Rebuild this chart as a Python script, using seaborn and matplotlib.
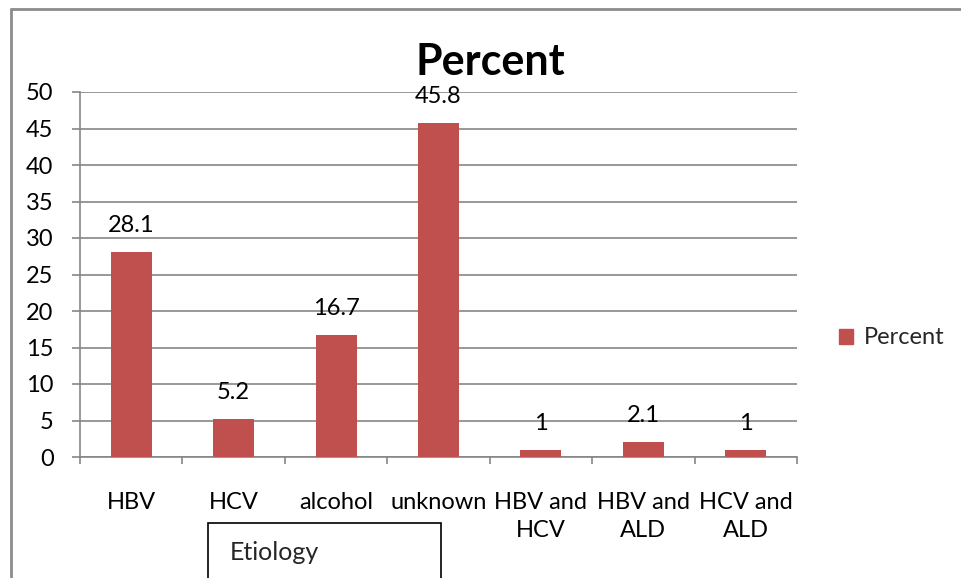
import seaborn as sns
import pandas as pd
import matplotlib.pyplot as plt
from matplotlib.patches import Rectangle
from matplotlib.lines import Line2D

categories = ["HBV", "HCV", "alcohol", "unknown", "HBV and\nHCV", "HBV and\nALD", "HCV and\nALD"]
percent = [28.1, 5.2, 16.7, 45.8, 1, 2.1, 1]
value_labels = ["28.1", "5.2", "16.7", "45.8", "1", "2.1", "1"]

sns.set_theme(style="white")
plt.rcParams['font.family'] = ['Lato', 'DejaVu Sans']

W, H = 961, 578
fig = plt.figure(figsize=(W / 100, H / 100), dpi=100)

# plot area in pixel coords
x0, x1, ytop, ybot = 80, 797, 92, 457
ax = fig.add_axes([x0 / W, 1 - ybot / H, (x1 - x0) / W, (ybot - ytop) / H])

df = pd.DataFrame({"Etiology": categories, "Percent": percent})
bar_color = "#C0504D"
sns.barplot(ax=ax, data=df, x="Etiology", y="Percent", color=bar_color,
            saturation=1, width=0.4, linewidth=0, zorder=3)

ax.set_xlim(-0.5, len(categories) - 0.5)
ax.set_ylim(0, 50)
ax.set_yticks(range(0, 51, 5))
ax.set_xlabel("")
ax.set_ylabel("")

grid_c = "#868686"
ax.yaxis.grid(True, color=grid_c, linewidth=1.2, zorder=0)
for s in ["top", "right"]:
    ax.spines[s].set_visible(False)
for s in ["left", "bottom"]:
    ax.spines[s].set_color(grid_c)
    ax.spines[s].set_linewidth(1.2)

fs = 17
ax.tick_params(axis="y", left=True, length=6, width=1.2, color=grid_c,
               labelsize=fs, pad=13, labelcolor="black")
ax.tick_params(axis="x", bottom=False, labelsize=fs, pad=19, labelcolor="black")
ax.set_xticks([i - 0.5 for i in range(len(categories) + 1)], minor=True)
ax.tick_params(axis="x", which="minor", bottom=True, length=5, width=1.2, color=grid_c)
for t in ax.get_xticklabels():
    t.set_linespacing(1.45)

for i, v in enumerate(percent):
    ax.annotate(value_labels[i], (i, v), xytext=(0, 19), textcoords="offset points",
                ha="center", va="center", fontsize=fs, color="black")

# chart title is centred on the whole chart, not the plot area
ax.set_title("Percent", fontsize=31, fontweight="bold", pad=12, color="black",
             x=(490 - x0) / (x1 - x0))

handles = [Rectangle((0, 0), 1, 1, color=bar_color)]
fig.legend(handles, ["Percent"], loc="center left", bbox_to_anchor=(839 / W, 1 - 338 / H),
           frameon=False, fontsize=fs, handlelength=0.6, handleheight=0.6,
           handletextpad=0.45, borderaxespad=0, borderpad=0)

# outer chart border (top and left edges visible)
fig.add_artist(Line2D([11 / W, 1], [1 - 9 / H, 1 - 9 / H], transform=fig.transFigure,
                      color="#8c8c8c", linewidth=2))
fig.add_artist(Line2D([11 / W, 11 / W], [0, 1 - 9 / H], transform=fig.transFigure,
                      color="#8c8c8c", linewidth=2))

# axis title box
fig.add_artist(Rectangle((208 / W, -0.02), (441 - 208) / W, 0.02 + (578 - 523) / H,
                         transform=fig.transFigure, fill=False, edgecolor="black",
                         linewidth=1.2))
fig.text(230 / W, 1 - 553 / H, "Etiology", fontsize=18, va="center", ha="left")

fig.savefig("out.png", dpi=100)
